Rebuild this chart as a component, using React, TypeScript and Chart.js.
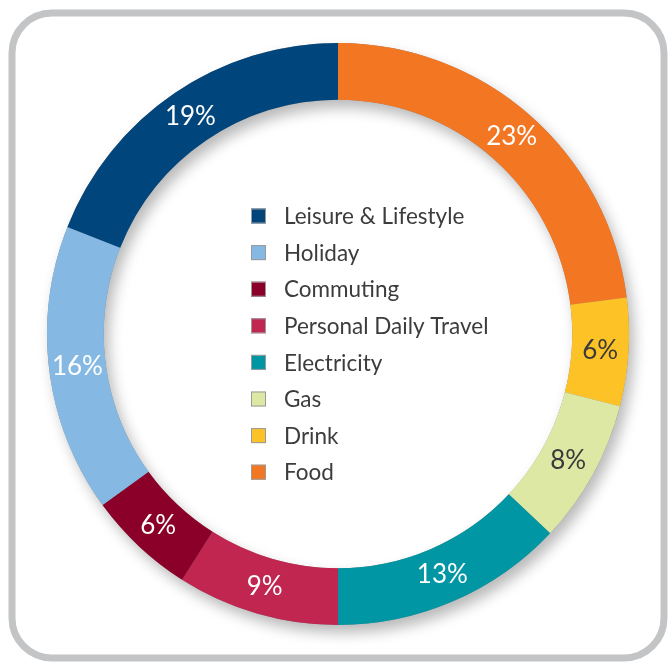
import React, { useEffect, useRef } from "react";
import { Chart, registerables } from "chart.js";

Chart.register(...registerables);

const categories = [
  "Food",
  "Drink",
  "Gas",
  "Electricity",
  "Personal Daily Travel",
  "Commuting",
  "Holiday",
  "Leisure & Lifestyle",
];
const shares = [23, 6, 8, 13, 9, 6, 16, 19];
const colors = [
  "#f37623",
  "#fdc326",
  "#dde8a5",
  "#0096a3",
  "#c0264f",
  "#8a0029",
  "#85b9e3",
  "#00457c",
];
const labelColors = ["#ffffff", "#3a3a3a", "#3a3a3a", "#ffffff", "#ffffff", "#ffffff", "#ffffff", "#ffffff"];
const legendOrder = [7, 6, 5, 4, 3, 2, 1, 0];

const FONT = "Lato, 'Noto Sans', sans-serif";

const framePlugin = {
  id: "frame",
  beforeDraw(chart: any) {
    const ctx = chart.ctx;
    ctx.save();
    ctx.fillStyle = "#ffffff";
    ctx.fillRect(0, 0, chart.width, chart.height);
    const x = 12, y = 13, w = 652, h = 645, r = 40;
    ctx.beginPath();
    ctx.moveTo(x + r, y);
    ctx.lineTo(x + w - r, y);
    ctx.arcTo(x + w, y, x + w, y + r, r);
    ctx.lineTo(x + w, y + h - r);
    ctx.arcTo(x + w, y + h, x + w - r, y + h, r);
    ctx.lineTo(x + r, y + h);
    ctx.arcTo(x, y + h, x, y + h - r, r);
    ctx.lineTo(x, y + r);
    ctx.arcTo(x, y, x + r, y, r);
    ctx.closePath();
    ctx.lineWidth = 7;
    ctx.strokeStyle = "#c3c4c6";
    ctx.stroke();
    ctx.restore();
  },
};

const ringShadowPlugin = {
  id: "ringShadow",
  beforeDatasetsDraw(chart: any) {
    const meta = chart.getDatasetMeta(0);
    const arc = meta.data[0];
    if (!arc) return;
    const { x, y, innerRadius, outerRadius } = arc.getProps(["x", "y", "innerRadius", "outerRadius"], true);
    const ctx = chart.ctx;
    ctx.save();
    ctx.shadowColor = "rgba(0,0,0,0.28)";
    ctx.shadowBlur = 14;
    ctx.shadowOffsetX = 5;
    ctx.shadowOffsetY = 8;
    ctx.beginPath();
    ctx.arc(x, y, outerRadius, 0, Math.PI * 2, false);
    ctx.arc(x, y, innerRadius, 0, Math.PI * 2, true);
    ctx.closePath();
    ctx.fillStyle = "#888888";
    ctx.fill();
    ctx.restore();
  },
};

const labelsPlugin = {
  id: "sliceLabels",
  afterDatasetsDraw(chart: any) {
    const ctx = chart.ctx;
    const meta = chart.getDatasetMeta(0);
    const data = chart.data.datasets[0].data as number[];
    ctx.save();
    ctx.font = "26px " + FONT;
    ctx.textAlign = "center";
    ctx.textBaseline = "middle";
    meta.data.forEach((el: any, i: number) => {
      const p = el.tooltipPosition();
      ctx.fillStyle = labelColors[i];
      ctx.fillText(data[i] + "%", p.x, p.y);
    });

    // legend in the centre
    const cx = 251;
    const top = 216;
    const step = 36.6;
    ctx.textAlign = "left";
    ctx.font = "22.5px " + FONT;
    legendOrder.forEach((idx, row) => {
      const cy = top + row * step;
      ctx.fillStyle = colors[idx];
      ctx.fillRect(cx, cy - 7.5, 15, 15);
      ctx.lineWidth = 1;
      ctx.strokeStyle = "#9a9a9a";
      ctx.strokeRect(cx + 0.5, cy - 7, 14, 14);
      ctx.fillStyle = "#3c3c3c";
      ctx.fillText(categories[idx], 284, cy + 1);
    });
    ctx.restore();
  },
};

export default function App() {
  const ref = useRef<HTMLCanvasElement | null>(null);
  useEffect(() => {
    if (!ref.current) return;
    const chart = new Chart(ref.current, {
      type: "doughnut",
      data: {
        labels: categories,
        datasets: [
          {
            data: shares,
            backgroundColor: colors,
            borderWidth: 0,
          },
        ],
      },
      options: {
        responsive: false,
        animation: false,
        cutout: "80.5%",
        layout: { padding: { left: 47, right: 41, top: 43, bottom: 37 } },
        plugins: {
          legend: { display: false },
          tooltip: { enabled: false },
        },
      },
      plugins: [framePlugin, ringShadowPlugin, labelsPlugin],
    });
    return () => chart.destroy();
  }, []);
  return (
    <div style={{ position: "fixed", left: 0, top: 0, width: 670, height: 662 }}>
      <canvas ref={ref} width={670} height={662} style={{ display: "block" }} />
    </div>
  );
}
